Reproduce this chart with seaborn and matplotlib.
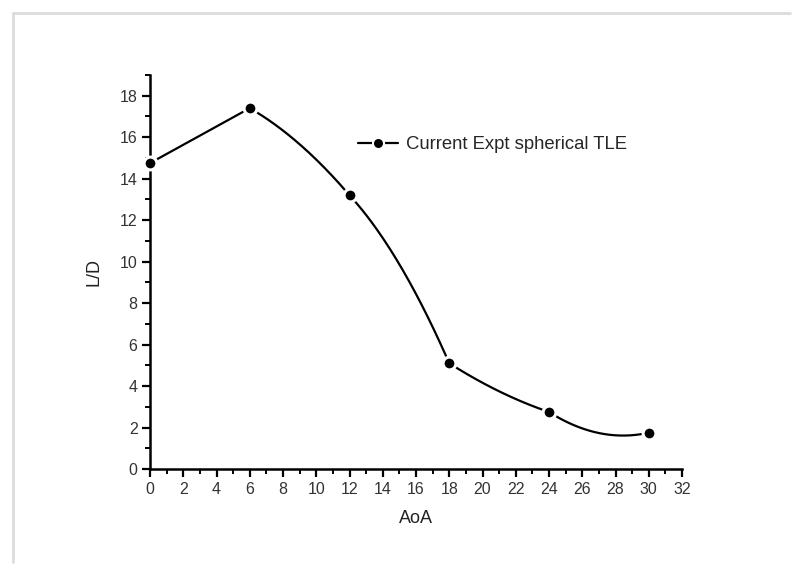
import numpy as np
import pandas as pd
import matplotlib
matplotlib.use("Agg")
import matplotlib.pyplot as plt
from matplotlib.lines import Line2D
from matplotlib.ticker import MultipleLocator
import seaborn as sns

aoa = [0, 6, 12, 18, 24, 30]
ld = [14.75, 17.4, 13.2, 5.1, 2.75, 1.75]
series_name = "Current Expt spherical TLE"

# slope with which the drawn curve leaves each point;
# None means a straight segment
leave_slope = [None, -0.46, -0.87, -0.51, -0.51]


def piecewise_curve(x, y, slopes, n=80):
    # each segment is a parabola that starts with the given slope
    xs, ys = [], []
    for i in range(len(x) - 1):
        x0, x1, y0, y1 = x[i], x[i + 1], y[i], y[i + 1]
        h = x1 - x0
        chord = (y1 - y0) / h
        s0 = chord if slopes[i] is None else slopes[i]
        c = (chord - s0) / h
        u = np.linspace(0, h, n)
        xs.append(x0 + u)
        ys.append(y0 + s0 * u + c * u**2)
    return np.concatenate(xs), np.concatenate(ys)


sns.set_style("white")
plt.rcParams["font.family"] = ["Liberation Sans", "DejaVu Sans"]

fig = plt.figure(figsize=(8, 5.75), dpi=100)
ax = fig.add_axes([0.1875, 0.1843, 0.665, 0.6853])

xs, ys = piecewise_curve(aoa, ld, leave_slope)
curve = pd.DataFrame({"AoA": xs, "L/D": ys})
pts = pd.DataFrame({"AoA": aoa, "L/D": ld})

sns.lineplot(data=curve, x="AoA", y="L/D", color="black", linewidth=1.6,
             ax=ax, sort=False, estimator=None)
sns.scatterplot(data=pts, x="AoA", y="L/D", color="black", s=85,
                edgecolor="white", linewidth=2.2, ax=ax, zorder=5,
                clip_on=False)

ax.set_xlim(0, 32)
ax.set_ylim(0, 19)
ax.xaxis.set_major_locator(MultipleLocator(2))
ax.xaxis.set_minor_locator(MultipleLocator(1))
ax.yaxis.set_major_locator(MultipleLocator(2))
ax.yaxis.set_minor_locator(MultipleLocator(1))

for s in ["top", "right"]:
    ax.spines[s].set_visible(False)
for s in ["left", "bottom"]:
    ax.spines[s].set_linewidth(1.8)
    ax.spines[s].set_color("black")

ax.tick_params(which="major", direction="out", length=6, width=1.6,
               color="black", labelsize=11.5, labelcolor="#333333", pad=3,
               left=True, bottom=True)
ax.tick_params(which="minor", direction="out", length=3.5, width=1.4,
               color="black", left=True, bottom=True)

ax.set_xlabel("AoA", fontsize=13, color="#222222", labelpad=10)
ax.set_ylabel("L/D", fontsize=13, color="#222222", labelpad=12)

handle = Line2D([], [], color="black", linewidth=1.6, marker="o",
                markersize=8, markeredgecolor="white", markeredgewidth=1.5)
fig.legend([handle], [series_name], loc="center left",
           bbox_to_anchor=(0.436, 0.748), frameon=False, fontsize=13.3,
           handlelength=2.15, handletextpad=0.45, borderpad=0)

# faint frame around the picture (top and left edges only)
fig.add_artist(Line2D([0.016, 0.988], [0.977, 0.977], color="#dcdcdc",
                      linewidth=2, transform=fig.transFigure))
fig.add_artist(Line2D([0.016, 0.016], [0.977, 0.022], color="#dcdcdc",
                      linewidth=2, transform=fig.transFigure))

fig.savefig("out.png", dpi=100)
